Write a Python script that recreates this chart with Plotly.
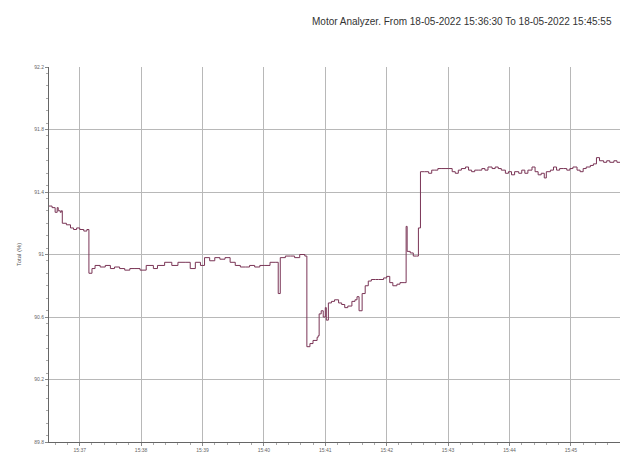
import plotly.graph_objects as go

# Sample times (18-05-2022) and total values in %
times = [
    "15:36:30", "15:36:33", "15:36:36", "15:36:38", "15:36:39", "15:36:41", "15:36:42",
    "15:36:43", "15:36:47", "15:36:51", "15:36:54", "15:36:57", "15:37:00", "15:37:04",
    "15:37:07", "15:37:09", "15:37:12", "15:37:15", "15:37:20", "15:37:25", "15:37:30",
    "15:37:34", "15:37:39", "15:37:44", "15:37:49", "15:37:54", "15:37:59", "15:38:05",
    "15:38:12", "15:38:16", "15:38:23", "15:38:30", "15:38:36", "15:38:43", "15:38:48",
    "15:38:53", "15:38:58", "15:39:02", "15:39:07", "15:39:12", "15:39:17", "15:39:22",
    "15:39:27", "15:39:32", "15:39:37", "15:39:42", "15:39:46", "15:39:51", "15:39:56",
    "15:40:01", "15:40:06", "15:40:11", "15:40:14", "15:40:16", "15:40:21", "15:40:26",
    "15:40:30", "15:40:35", "15:40:40", "15:40:42", "15:40:45", "15:40:48", "15:40:52",
    "15:40:53", "15:40:54", "15:40:56", "15:40:58", "15:41:00", "15:41:01", "15:41:03",
    "15:41:06", "15:41:09", "15:41:13", "15:41:16", "15:41:19", "15:41:22", "15:41:26",
    "15:41:29", "15:41:31", "15:41:33", "15:41:36", "15:41:39", "15:41:42", "15:41:45",
    "15:41:49", "15:41:52", "15:41:57", "15:42:00", "15:42:03", "15:42:06", "15:42:10",
    "15:42:13", "15:42:17", "15:42:19", "15:42:20", "15:42:23", "15:42:26", "15:42:29",
    "15:42:31", "15:42:33", "15:42:37", "15:42:41", "15:42:44", "15:42:47", "15:42:50",
    "15:42:54", "15:42:57", "15:43:00", "15:43:04", "15:43:07", "15:43:10", "15:43:13",
    "15:43:17", "15:43:20", "15:43:23", "15:43:26", "15:43:30", "15:43:33", "15:43:36",
    "15:43:39", "15:43:43", "15:43:46", "15:43:49", "15:43:52", "15:43:56", "15:43:59",
    "15:44:02", "15:44:05", "15:44:09", "15:44:12", "15:44:15", "15:44:18", "15:44:22",
    "15:44:25", "15:44:28", "15:44:31", "15:44:34", "15:44:36", "15:44:40", "15:44:43",
    "15:44:46", "15:44:49", "15:44:53", "15:44:56", "15:44:59", "15:45:02", "15:45:06",
    "15:45:09", "15:45:12", "15:45:15", "15:45:19", "15:45:22", "15:45:25", "15:45:28",
    "15:45:32", "15:45:35", "15:45:38", "15:45:42", "15:45:45", "15:45:48", "15:45:55",
]
total_pct = [
    91.31, 91.30, 91.27, 91.30, 91.28, 91.27, 91.28,
    91.20, 91.19, 91.17, 91.16, 91.17, 91.16, 91.15,
    91.16, 90.88, 90.91, 90.93, 90.92, 90.93, 90.91,
    90.92, 90.91, 90.90, 90.91, 90.91, 90.90, 90.93,
    90.91, 90.93, 90.95, 90.93, 90.95, 90.95, 90.91,
    90.95, 90.93, 90.98, 90.96, 90.98, 90.97, 90.98,
    90.95, 90.93, 90.92, 90.92, 90.93, 90.92, 90.93,
    90.93, 90.95, 90.95, 90.75, 90.98, 90.99, 90.99,
    90.98, 91.00, 90.99, 90.41, 90.43, 90.45, 90.47,
    90.48, 90.62, 90.64, 90.60, 90.66, 90.58, 90.69,
    90.70, 90.71, 90.69, 90.68, 90.66, 90.67, 90.70,
    90.71, 90.73, 90.64, 90.75, 90.80, 90.83, 90.84,
    90.84, 90.84, 90.85, 90.86, 90.82, 90.80, 90.81,
    90.82, 90.82, 91.18, 91.02, 91.01, 90.99, 90.99,
    91.17, 91.53, 91.53, 91.52, 91.54, 91.54, 91.55,
    91.55, 91.55, 91.55, 91.53, 91.52, 91.54, 91.55,
    91.56, 91.54, 91.53, 91.54, 91.54, 91.55, 91.54,
    91.56, 91.55, 91.56, 91.55, 91.54, 91.52, 91.53,
    91.51, 91.53, 91.52, 91.54, 91.52, 91.54, 91.56,
    91.53, 91.51, 91.52, 91.49, 91.53, 91.54, 91.56,
    91.54, 91.55, 91.55, 91.54, 91.55, 91.56, 91.54,
    91.53, 91.55, 91.56, 91.57, 91.58, 91.62, 91.60,
    91.59, 91.60, 91.59, 91.60, 91.59, 91.59, 91.60,
]

day = "2022-05-18 "
x_vals = [day + t for t in times]

minute_ticks = ["15:37", "15:38", "15:39", "15:40", "15:41", "15:42", "15:43", "15:44", "15:45"]
y_ticks = [89.8, 90.2, 90.6, 91.0, 91.4, 91.8, 92.2]
y_labels = ["89.8", "90.2", "90.6", "91", "91.4", "91.8", "92.2"]

title_text = "Motor Analyzer. From 18-05-2022 15:36:30 To 18-05-2022 15:45:55"

fig = go.Figure()
fig.add_trace(go.Scatter(
    x=x_vals, y=total_pct, mode="lines",
    line=dict(color="#7a3556", width=1, shape="hv"),
    showlegend=False,
))

tick_font = dict(family="Liberation Sans, Arial, sans-serif", size=5, color="#666666")

fig.update_layout(
    width=620, height=452,
    margin=dict(l=49, r=0, t=67, b=10),
    paper_bgcolor="white", plot_bgcolor="white",
    title=dict(
        text=title_text, xref="container", yref="container",
        x=312 / 620, xanchor="left", y=1 - 21 / 452, yanchor="middle",
        font=dict(family="Liberation Sans, Arial, sans-serif", size=10, color="#333333"),
    ),
    xaxis=dict(
        range=[day + "15:36:30", day + "15:45:48"],
        tickvals=[day + m + ":00" for m in minute_ticks],
        ticktext=minute_ticks,
        showgrid=True, gridcolor="#b8b8b8", gridwidth=1.3,
        showline=True, linecolor="#666666", linewidth=1,
        ticks="outside", ticklen=3, tickcolor="#888888",
        minor=dict(dtick=12000, ticks="outside", ticklen=2, tickcolor="#aaaaaa", showgrid=False),
        tickfont=tick_font, zeroline=False,
    ),
    yaxis=dict(
        range=[89.8, 92.2],
        tickvals=y_ticks, ticktext=y_labels,
        showgrid=True, gridcolor="#b8b8b8", gridwidth=1.3,
        showline=True, linecolor="#666666", linewidth=1,
        ticks="outside", ticklen=3, tickcolor="#888888",
        minor=dict(dtick=0.08, ticks="outside", ticklen=2, tickcolor="#aaaaaa", showgrid=False),
        tickfont=tick_font, zeroline=False,
        title=dict(text="Total (%)", font=dict(family="Liberation Sans, Arial, sans-serif", size=6, color="#555555"), standoff=12),
    ),
)

fig.write_html("out.html")
